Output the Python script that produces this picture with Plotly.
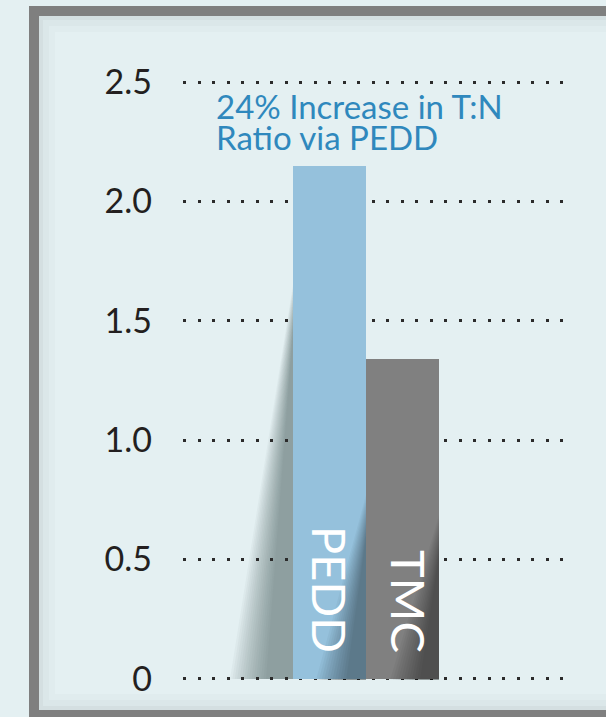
import plotly.graph_objects as go

categories = ["PEDD", "TMC"]
values = [2.15, 1.34]
bar_colors = ["#95c1dc", "#808080"]
tick_vals = [0, 0.5, 1.0, 1.5, 2.0, 2.5]
tick_text = ["0", "0.5", "1.0", "1.5", "2.0", "2.5"]
note_lines = ["24% Increase in T:N", "Ratio via PEDD"]

W, H = 606, 717
ML, MR, MT, MB = 183, 42, 77, 33
PW, PH = W - ML - MR, H - MT - MB


def px(x):
    return (x - ML) / PW


def py(y):
    return (H - MB - y) / PH


BG = "#e4f0f2"
FONT = "Lato"

fig = go.Figure()
fig.add_trace(go.Bar(
    x=categories, y=values, marker=dict(color=bar_colors, line=dict(width=0)),
    width=1.0, hoverinfo="skip", showlegend=False,
))

shapes = []
# soft shadow left of PEDD bar (decorative)
n = 16
for i in range(n):
    t = i / (n - 1)
    xl = 230 + t * 36
    ytop = 285 + t * 45
    shapes.append(dict(type="path", xref="paper", yref="paper", layer="below",
                       path=f"M {px(293)} {py(ytop)} L {px(xl)} {py(679)} L {px(293)} {py(679)} Z",
                       fillcolor="#4a5456", opacity=0.042, line=dict(width=0)))
# dark gradients inside bars (decorative)
for (xr, xlb, ytop0) in [(366, 316, 495), (439, 390, 515)]:
    m = 12
    for i in range(m):
        t = i / (m - 1)
        shapes.append(dict(type="path", xref="paper", yref="paper", layer="above",
                           path=f"M {px(xr)} {py(ytop0 + t * 40)} L {px(xr)} {py(680)} L {px(xlb + t * 30)} {py(680)} Z",
                           fillcolor="#000000", opacity=0.036, line=dict(width=0)))
# inner shadow of frame
for off, a in [(8, 0.015), (5, 0.02), (2, 0.03)]:
    shapes.append(dict(type="rect", xref="paper", yref="paper", layer="above",
                       x0=px(39 + off), x1=px(640), y0=py(16 + off), y1=py(710 - off),
                       line=dict(color=f"rgba(0,0,0,{a})", width=2 * off), fillcolor="rgba(0,0,0,0)"))
# frame
shapes.append(dict(type="rect", xref="paper", yref="paper", layer="above",
                   x0=px(34), x1=px(640), y0=py(11), y1=py(715),
                   line=dict(color="#7f7f7f", width=10), fillcolor="rgba(0,0,0,0)"))

annotations = []
for cat, xs in zip(categories, [1, 7]):
    annotations.append(dict(x=cat, y=0.1, xref="x", yref="y", text=cat, textangle=90,
                            showarrow=False, xanchor="center", yanchor="bottom", xshift=xs,
                            font=dict(family=FONT, size=47, color="white")))
# two-line note: base size sets line spacing (~31px), span sets glyph size
note_text = "<br>".join(f'<span style="font-size:33px">{ln}</span>' for ln in note_lines)
annotations.append(dict(x=px(214), y=py(84), xref="paper", yref="paper", text=note_text,
                        showarrow=False, xanchor="left", yanchor="top", align="left",
                        font=dict(family=FONT, size=24, color="#2f88bd")))

fig.update_layout(
    width=W, height=H,
    margin=dict(l=ML, r=MR, t=MT, b=MB, pad=0),
    paper_bgcolor=BG, plot_bgcolor="rgba(0,0,0,0)",
    bargap=0,
    xaxis=dict(range=[-2.007, 3.212], showgrid=False, zeroline=False, showticklabels=False,
               showline=False, fixedrange=True),
    yaxis=dict(range=[-0.021, 2.521], tickvals=tick_vals, ticktext=tick_text,
               showgrid=True, gridcolor="#2b2b2b", gridwidth=3, griddash="3px,11.5px",
               zeroline=False, showline=False, ticks="", ticklabelstandoff=30,
               tickfont=dict(family=FONT, size=34, color="#231f20")),
    shapes=shapes, annotations=annotations,
)

fig.write_html("out.html")
